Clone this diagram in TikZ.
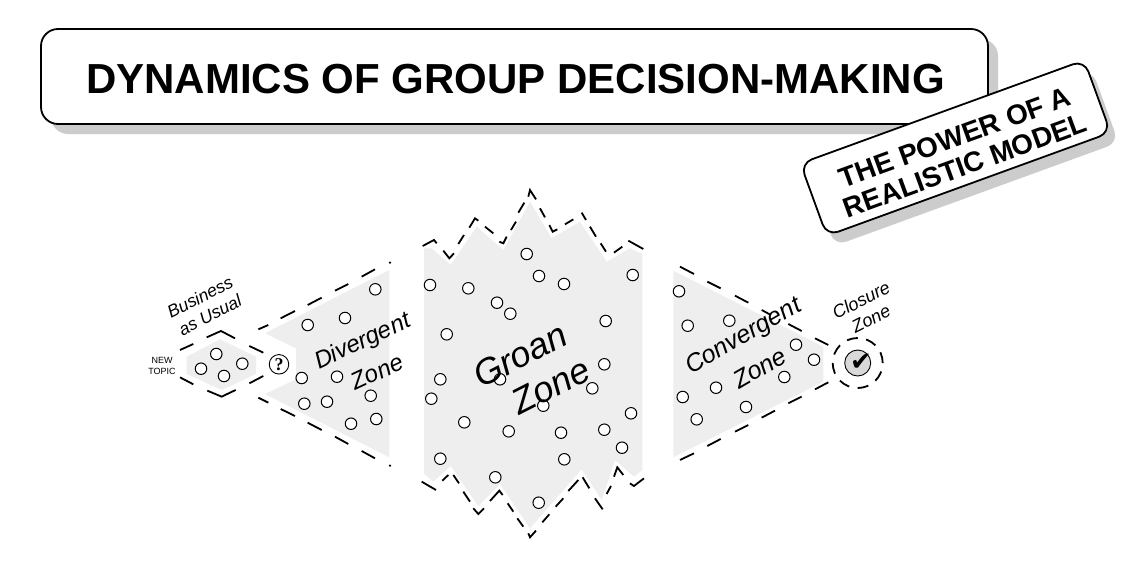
\documentclass[tikz,border=0pt]{standalone}
\usepackage{fontspec}
\setmainfont{Liberation Sans}
\newfontfamily\symfont{DejaVu Sans}
\newfontfamily\serffont{Liberation Serif}
\definecolor{zonegray}{HTML}{EEEEEE}
\definecolor{shadowgray}{HTML}{CCCCCC}
\tikzset{
  x=1pt,y=-1pt,
  zonefill/.style={fill=zonegray,draw=none},
  edgeline/.style={line width=1.8pt,line join=miter,line cap=butt},
  dot/.style={circle,draw=black,fill=white,line width=1pt,minimum size=11.5pt,inner sep=0pt},
  enddot/.style={circle,fill=black,minimum size=2.5pt,inner sep=0pt},
  zonelabel/.style={font=\itshape\fontsize{#1}{#1}\selectfont,inner sep=0pt},
  titlebox/.style={rounded corners=17pt,minimum width=947pt,minimum height=95pt,inner sep=0pt},
  tagbox/.style={rounded corners=12pt,minimum width=302pt,minimum height=77pt,inner sep=0pt,rotate=20},
  zoomA/.style={shift={(130,250)},x=0.3333pt,y=-0.3333pt},
  zoomB/.style={shift={(410,180)},x=0.3333pt,y=-0.3333pt},
  zoomC/.style={shift={(410,360)},x=0.3333pt,y=-0.3333pt},
  zoomD/.style={shift={(660,250)},x=0.3333pt,y=-0.3333pt},
}
\begin{document}
\begin{tikzpicture}
\useasboundingbox (0,0) rectangle (1124,560);
\fill[white] (0,0) rectangle (1124,560);
% title
\node[titlebox,fill=shadowgray] (titleshadow) at (524.5,86.5) {};
\node[titlebox,draw=black,fill=white,line width=1.8pt] (title) at (514.5,76.5) {};
\node[inner sep=0pt,font=\bfseries\fontsize{42}{42}\selectfont] (titletext) at (515.5,79.5) {DYNAMICS OF GROUP DECISION-MAKING};
\node[tagbox,fill=shadowgray] (tagshadow) at (963.5,158) {};
\node[tagbox,draw=black,fill=white,line width=1.8pt] (tag) at (955.5,148) {};
\node[inner sep=0pt,rotate=20,font=\bfseries\fontsize{28}{30}\selectfont,align=center] (tagtext) at (960,151.5) {THE POWER OF A\\REALISTIC MODEL};
% gray zones
\path[zonefill] (186.7,356.7)--(220,339.3)--(256,356.7)--(256,374)--(221.7,390)--(186.7,374)--cycle;
\path[zonefill] (265,333.3)--(389.3,270)--(389.3,457.3)--(265,394)--(296,379.3)--(296,348.3)--cycle;
\path[zonefill] (424,248.3)--(431.7,248.3)--(450.7,265)--(476.7,226.7)--(503.3,250)--(530,201.7)--(551.7,238.3)--(580,221.7)--(606.7,261.7)--(630,248.3)--(642.3,254)
  --(642.3,470)--(634,476.7)--(615,460)--(601.7,500)--(581.7,469.3)--(530,528.3)--(500,484)--(478.3,506)--(450.7,466)--(433.3,481.7)--(424,473.3)--cycle;
\path[zonefill] (673.3,270.7)--(823.3,346.7)--(823.3,381.7)--(673.3,457.3)--cycle;
% dashed edges
\draw[edgeline,zoomA] (150,300)--(190,282) (230,262)--(273,243)--(315,265) (358,288)--(400,308)
  (150,382)--(190,403) (232,422)--(275,440)--(317,420) (358,400)--(400,378)
  (385,238)--(415,225) (452,205)--(495,183) (533,165)--(575,143) (615,122)--(655,102) (695,80)--(735,58)
  (385,443)--(415,458) (452,477)--(495,498) (533,518)--(575,540) (615,560)--(655,582) (695,603)--(735,625);
\node[enddot] (dota) at (390,262.7) {};
\node[enddot] (dotb) at (390,465.7) {};
\draw[edgeline,zoomB] (38,198)--(72,180)--(80,190) (100,212)--(118,235)--(132,220) (145,192)--(162,165)
  (178,143)--(195,115)--(205,122) (225,140)--(250,160) (268,185)--(280,190)--(290,170) (303,150)--(318,125)
  (325,98)--(343,68) (355,50)--(360,30)--(378,58) (390,85)--(405,112) (418,135)--(428,155)--(442,148)
  (465,133)--(490,118) (515,98)--(528,120) (540,140)--(558,170) (572,190)--(588,215) (612,218)--(637,200) (655,182)--(700,207);
\draw[edgeline,zoomC] (35,365)--(78,390) (97,362)--(115,345) (130,345)--(147,370) (160,395)--(180,425)
  (190,445)--(205,462)--(222,445) (240,423)--(268,392)--(278,405) (293,430)--(310,455) (322,475)--(340,500)
  (355,520)--(360,532)--(378,512) (397,487)--(418,463) (437,440)--(460,415) (475,393)--(505,360)
  (518,352)--(538,385) (555,415)--(578,448) (590,402)--(603,378) (612,350)--(622,322)--(640,345) (660,370)--(672,378)--(702,355);
\draw[edgeline,zoomD] (60,50)--(102,72) (142,95)--(182,115) (225,137)--(265,158) (305,180)--(333,195) (385,222)--(425,243) (465,265)--(505,285)
  (60,630)--(102,610) (142,588)--(182,567) (225,545)--(265,525) (305,503)--(345,482) (385,460)--(425,440) (465,418)--(505,397);
% closure
\node[circle,draw=black,line width=1.8pt,dash pattern=on 11pt off 8.6pt,minimum size=50pt,inner sep=0pt] (closurering) at (857.7,363) {};
\node[circle,draw=black,fill=black!15,line width=0.9pt,minimum size=26pt,inner sep=0pt] (closure) at (857.7,363) {};
\node[font=\symfont\fontsize{26}{26}\selectfont,inner sep=0pt] (check) at (861,362) {✔};
% question
\node[circle,draw=black,fill=white,line width=0.9pt,minimum size=19.5pt,inner sep=0pt,font=\serffont\bfseries\fontsize{18}{18}\selectfont] (question) at (279,364.3) {?};
% dots
\foreach \p [count=\i] in {(216.3,354),(201,368.7),(224,376),(242.3,363.7),
 (375.3,289.3),(345,318),(307.7,325),(301.7,378),(337,376.7),(304.3,403.7),(327,401.7),(370.7,395.7),(351,423.7),(376.3,419),
 (526.7,254),(539,276),(564,284),(632.7,275),(430,285),(468.3,288.3),(497,302.7),(510.3,313.7),(605.7,321),(446.7,334.3),
 (440.3,379.3),(431.3,398.7),(500,379.3),(592.3,388.3),(543.3,405.7),(464.3,422.3),(508.7,431.3),(561,432.7),(604.3,429.7),(631,413.3),(622,447.7),(440.3,458.7),(564.3,459.3),(495.3,477.3),(538.7,502.7),(604.3,364.3),
 (679,291.3),(687.7,325.7),(729.3,320.7),(796,344.7),(814,359.7),(784.3,377),(716,387.7),(682.7,397),(746,407),(696.7,419.3)}
  \node[dot] (c\i) at \p {};
% labels
\node[zonelabel=17.5,rotate=27] (bau1) at (200,297) {Business};
\node[zonelabel=17.5,rotate=27] (bau2) at (210,315) {as Usual};
\node[align=center,inner sep=0pt,font=\fontsize{9}{11.5}\selectfont] (newtopic) at (162,366) {NEW\\TOPIC};
\node[zonelabel=24,rotate=25] (div1) at (363,342) {Divergent};
\node[zonelabel=24,rotate=25] (div2) at (377,372) {Zone};
\node[zonelabel=36,rotate=27] (groan1) at (520,355) {Groan};
\node[zonelabel=36,rotate=27] (groan2) at (551,386) {Zone};
\node[zonelabel=25,rotate=30] (conv1) at (744,337) {Convergent};
\node[zonelabel=25,rotate=30] (conv2) at (760,368) {Zone};
\node[zonelabel=18,rotate=27] (clos1) at (861,300) {Closure};
\node[zonelabel=18,rotate=27] (clos2) at (871,319) {Zone};
\end{tikzpicture}
\end{document}
